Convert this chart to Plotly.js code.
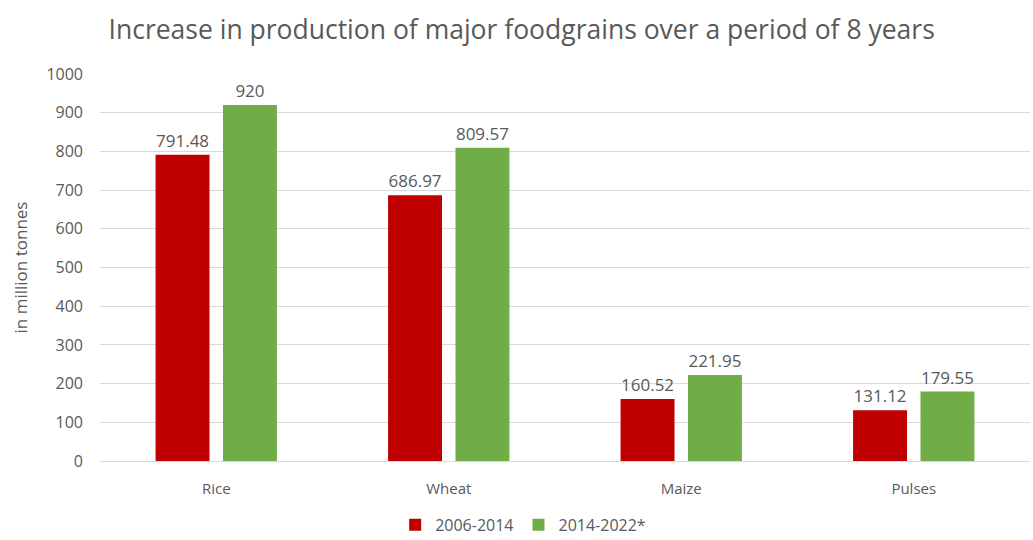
<!DOCTYPE html>
<html><head><meta charset="utf-8">
<script src="https://cdn.plot.ly/plotly-3.0.1.min.js"></script>
<style>body{margin:0;background:#fff}#c{width:1033px;height:540px}</style>
</head><body><div id="c"></div>
<script>
const categories = ["Rice", "Wheat", "Maize", "Pulses"];
const series1Name = "2006-2014";
const series2Name = "2014-2022*";
const series1 = [791.48, 686.97, 160.52, 131.12];
const series2 = [920, 809.57, 221.95, 179.55];
const yTicks = [0, 100, 200, 300, 400, 500, 600, 700, 800, 900, 1000];

const font = "Open Sans, Liberation Sans, sans-serif";
const gray = "#595959";
const fmt = v => String(v);

const traces = [
  {type: "bar", name: series1Name, x: categories, y: series1, marker: {color: "#C00000"},
   text: series1.map(fmt), textposition: "outside", cliponaxis: false,
   textfont: {size: 17, color: gray, family: font}},
  {type: "bar", name: series2Name, x: categories, y: series2, marker: {color: "#70AD47"},
   text: series2.map(fmt), textposition: "outside", cliponaxis: false,
   textfont: {size: 17, color: gray, family: font}}
];

const layout = {
  width: 1033, height: 540,
  paper_bgcolor: "#fff", plot_bgcolor: "#fff",
  font: {family: font, color: gray, size: 15},
  title: {text: "Increase in production of major foodgrains over a period of 8 years",
          font: {size: 26.5, color: gray, family: font}, x: 0.505, xanchor: "center", y: 0.945, yanchor: "middle"},
  margin: {l: 100, r: 3, t: 74, b: 79},
  barmode: "group", bargap: 0.42, bargroupgap: 0.2,
  xaxis: {tickfont: {size: 15, color: gray}, showline: true, linecolor: "#d9d9d9", ticks: "",
          ticklabelstandoff: 14, automargin: false, fixedrange: true},
  yaxis: {range: [0, 1000], tickvals: yTicks, ticktext: yTicks.map(String),
          tickfont: {size: 16, color: gray}, gridcolor: "#d9d9d9", zeroline: false, ticks: "", ticklen: 0,
          ticklabelstandoff: 16, automargin: false,
          title: {text: "in million tonnes", font: {size: 17, color: gray}, standoff: 14}},
  showlegend: true,
  legend: {orientation: "h", x: 0.455, xanchor: "center", yref: "container", y: 0.028, yanchor: "middle",
           font: {size: 16, color: gray}, itemwidth: 30},
};
Plotly.newPlot("c", traces, layout, {displayModeBar: false, staticPlot: true});
</script></body></html>
